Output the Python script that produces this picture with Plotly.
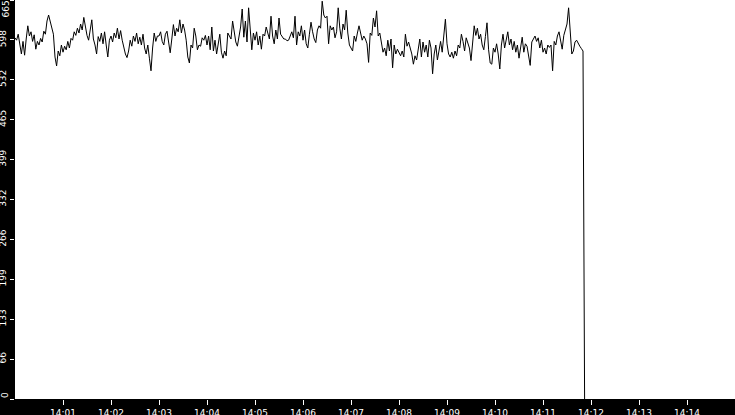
import pandas as pd
import plotly.graph_objects as go

START = pd.Timestamp('2024-01-01 14:00:00')
STEP_SECONDS = 2

# samples every 2 s from 14:00:00
values_1400 = [
    602, 598, 608, 592, 575, 596, 573, 600, 622, 605, 612, 596, 607, 583, 596,
    590, 601, 595, 613, 608, 630, 640, 628, 615, 608, 570, 555, 580, 572, 590,
    578, 588, 582, 596, 585, 601, 598, 612, 606, 618, 610, 625, 615, 636, 620,
    606, 598, 615, 632, 600, 590, 575, 604, 596, 610, 592, 612, 590, 570, 598,
    605, 595, 610, 602, 618, 600, 614, 598, 585, 575, 569, 580, 598, 588, 605,
    596, 610, 592, 603, 590, 608, 585, 575, 590, 568, 547, 585, 610, 596, 605,
]
values_1403 = [
    605, 612, 596, 590, 608, 613, 595, 577, 600, 624, 605, 618, 612, 632, 610,
    625, 615, 598, 570, 560, 590, 585, 618, 605, 582, 590, 588, 602, 598, 606,
    590, 605, 582, 620, 580, 598, 575, 590, 608, 578, 568, 580, 572, 610, 605,
    600, 630, 612, 595, 588, 602, 620, 650, 603, 630, 595, 652, 618, 582, 610,
    598, 612, 590, 605, 583, 608, 605, 620, 608, 600, 638, 605, 592, 615, 600,
    635, 608, 603, 600, 600, 597, 598, 605, 612, 602, 638, 590, 612, 605, 622,
]
values_1406 = [
    598, 615, 592, 585, 608, 628, 612, 600, 594, 615, 622, 618, 663, 640, 635,
    638, 592, 622, 615, 620, 602, 612, 652, 618, 600, 625, 615, 648, 610, 590,
    585, 580, 605, 596, 610, 622, 610, 598, 605, 600, 592, 561, 610, 606, 635,
    620, 647, 605, 610, 590, 578, 585, 572, 598, 580, 600, 552, 590, 575, 583,
    578, 572, 580, 570, 608, 588, 595, 585, 575, 558, 572, 565, 580, 600, 570,
    595, 578, 590, 570, 598, 585, 542, 575, 590, 565, 585, 596, 578, 605, 633,
]
values_1409 = [
    592, 575, 570, 578, 568, 580, 572, 590, 585, 608, 596, 580, 602, 595, 585,
    564, 588, 622, 606, 618, 600, 608, 590, 582, 604, 627, 582, 560, 558, 585,
    578, 592, 575, 550, 590, 608, 585, 600, 612, 590, 600, 582, 596, 578, 590,
    568, 585, 603, 578, 592, 588, 572, 556, 595, 600, 605, 596, 602, 585, 598,
    578, 585, 575, 590, 586, 590, 547, 596, 590, 605, 612, 595, 583, 606, 614,
    625, 652, 615, 575, 580, 595, 598, 592, 588, 584, 580,
]
# the feed drops out just before 14:12
drop_seconds = [711, 712]
drop_values = [290, 0]

y_tick_vals = [0, 66.5, 133, 199.5, 266, 332.5, 399, 465.5, 532, 598.5, 665]
y_tick_text = ['0', '66', '133', '199', '266', '332', '399', '465', '532', '598', '665']
x_tick_minutes = list(range(1, 15))


def build_series():
    values = values_1400 + values_1403 + values_1406 + values_1409
    seconds = [i * STEP_SECONDS for i in range(len(values))] + drop_seconds
    times = START + pd.to_timedelta(seconds, unit='s')
    return times, values + drop_values


def main():
    times, values = build_series()

    fig = go.Figure()
    fig.add_trace(go.Scatter(x=times, y=values, mode='lines',
                             line=dict(color='black', width=1), hoverinfo='skip'))

    tick_font = dict(family='DejaVu Sans', size=9, color='white')
    fig.update_layout(
        width=735, height=415,
        margin=dict(l=15, r=0, t=0, b=16),
        paper_bgcolor='black', plot_bgcolor='white',
        showlegend=False,
    )
    fig.update_xaxes(
        range=[START, START + pd.Timedelta(minutes=15)],
        tickvals=[START + pd.Timedelta(minutes=m) for m in x_tick_minutes],
        tickformat='%H:%M',
        ticks='outside', ticklen=5, tickcolor='white', tickwidth=1,
        tickfont=tick_font, showgrid=False, zeroline=False, showline=False,
        automargin=False,
    )

    # the end labels are nudged inside the frame, so draw those two as annotations
    inner_text = [t if 0 < i < len(y_tick_text) - 1 else '' for i, t in enumerate(y_tick_text)]
    fig.update_yaxes(
        range=[0, 665],
        tickvals=y_tick_vals, ticktext=inner_text, tickangle=-90,
        ticks='outside', ticklen=4, tickcolor='white', tickwidth=1,
        tickfont=tick_font, showgrid=False, zeroline=False, showline=False,
        automargin=False,
    )
    for val, text, anchor in [(y_tick_vals[0], y_tick_text[0], 'bottom'),
                              (y_tick_vals[-1], y_tick_text[-1], 'top')]:
        fig.add_annotation(x=0, xref='paper', y=val, yref='y', text=text,
                           textangle=-90, showarrow=False, font=tick_font,
                           xanchor='right', yanchor=anchor, xshift=-4,
                           borderpad=0)

    # drop the browser's default body margin so the figure fills the window
    fig.write_html('out.html', config={'displayModeBar': False},
                   post_script="document.body.style.margin = '0';")


if __name__ == '__main__':
    main()
